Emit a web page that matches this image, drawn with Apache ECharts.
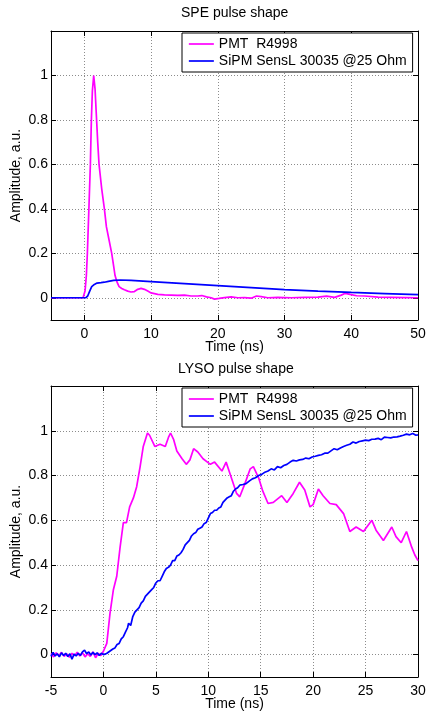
<!DOCTYPE html>
<html>
<head>
<meta charset="utf-8">
<script src="https://cdn.jsdelivr.net/npm/echarts@6/dist/echarts.min.js"></script>
<style>
  html, body { margin: 0; padding: 0; background: #fff; }
  #chart { width: 426px; height: 711px; }
</style>
</head>
<body>
<div id="chart"></div>
<script>
// SPE pulse shape: [time ns, amplitude]
var spePmt = [[-5,0],[-0.2,0],[0.1,0.03],[0.3,0.1],[0.45,0.2],[0.7,0.42],[0.9,0.6],[1.05,0.8],[1.2,0.93],[1.4,1.0],
  [1.6,0.94],[1.8,0.82],[2.0,0.7],[2.2,0.6],[2.6,0.49],[3.0,0.4],[3.3,0.32],[3.7,0.26],[4.1,0.2],[4.4,0.14],[4.6,0.1],
  [4.9,0.07],[5.2,0.05],[5.6,0.042],[6.0,0.036],[6.5,0.03],[7.0,0.026],[7.5,0.028],[8.0,0.038],[8.5,0.042],[9.0,0.038],
  [9.5,0.03],[10,0.022],[11,0.015],[12,0.013],[13,0.012],[14,0.011],[15,0.012],[16,0.008],[17,0.008],[17.6,0.01],
  [18.3,0.004],[19,0.0],[19.5,-0.006],[20.2,-0.003],[21,0.001],[22,0.004],[23,0.0],[24,0.001],[25,-0.002],[25.8,0.008],
  [26.5,0.005],[27.5,0.0],[29,0.002],[31,0.0],[33,0.002],[35,0.003],[36.3,0.007],[37.5,0.002],[38.5,0.012],[39.1,0.02],
  [39.8,0.015],[40.8,0.009],[42,0.008],[44,0.003],[46,0.002],[48,0.001],[50,0.0]];
var speSipm = [[-5,0],[0.2,0],[0.5,0.008],[0.8,0.03],[1.1,0.05],[1.5,0.06],[1.9,0.066],[2.5,0.068],[3.0,0.07],[3.6,0.074],
  [4.4,0.078],[5.4,0.08],[7,0.078],[10,0.073],[15,0.064],[20,0.055],[25,0.046],[30,0.037],[35,0.03],[40,0.024],[45,0.019],[50,0.014]];

// LYSO pulse shape
var lysoPmt = [[-5,0.005],[-4.75,-0.01],[-4.5,0.008],[-4.25,-0.005],[-4,0.01],[-3.75,-0.008],[-3.5,0.004],[-3.25,-0.012],
  [-3,0.006],[-2.75,-0.004],[-2.5,0.01],[-2.25,-0.006],[-2,0.008],[-1.75,-0.01],[-1.5,0.004],[-1.25,-0.008],[-1,0.012],
  [-0.75,-0.014],[-0.5,0.006],[-0.25,-0.004],[0,0.015],[0.32,0.05],[0.63,0.185],[0.95,0.29],[1.27,0.35],[1.59,0.48],
  [1.9,0.59],[2.2,0.59],[2.5,0.66],[2.86,0.7],[3.17,0.75],[3.5,0.84],[3.8,0.93],[4.2,0.99],[4.4,0.98],[4.9,0.93],
  [5.4,0.94],[5.9,0.93],[6.2,0.97],[6.4,0.99],[6.7,0.96],[7.0,0.91],[7.5,0.875],[7.9,0.85],[8.25,0.87],[8.6,0.92],
  [9.0,0.905],[9.5,0.875],[10.2,0.85],[10.6,0.86],[11.3,0.82],[11.7,0.86],[12.2,0.79],[12.7,0.72],[13.0,0.705],
  [13.5,0.765],[14.0,0.83],[14.3,0.84],[14.8,0.79],[15.2,0.73],[15.7,0.675],[16.2,0.68],[17.0,0.71],[17.5,0.68],
  [18.1,0.72],[18.7,0.77],[19.2,0.735],[19.7,0.66],[20.0,0.67],[20.5,0.74],[20.95,0.71],[21.6,0.675],[22.2,0.67],
  [22.9,0.63],[23.5,0.55],[24.1,0.57],[24.8,0.55],[25.6,0.6],[26.0,0.556],[26.7,0.51],[27.5,0.57],[27.9,0.527],
  [28.4,0.5],[28.9,0.55],[29.4,0.48],[29.7,0.445],[30,0.42]];
var lysoSipm = [[-5,-0.008],[-4.8,0.01],[-4.6,-0.006],[-4.4,0.004],[-4.2,-0.01],[-4,0.008],[-3.8,-0.004],[-3.6,0.006],
  [-3.4,-0.008],[-3.2,0.004],[-3.0,-0.02],[-2.8,0.002],[-2.6,-0.006],[-2.4,0.006],[-2.2,-0.004],[-2.0,0.012],[-1.8,0.02],
  [-1.6,0.004],[-1.4,0.012],[-1.2,-0.002],[-1.0,0.01],[-0.8,0.0],[-0.6,0.008],[-0.4,-0.004],[-0.2,0.006],
  [0,0.0],[0.3,0.005],[0.6,0.015],[0.9,0.025],[1.1,0.03],[1.3,0.045],[1.5,0.05],[1.7,0.07],[1.9,0.08],[2.1,0.1],
  [2.3,0.12],[2.4,0.14],[2.6,0.13],[2.8,0.17],[3.0,0.19],[3.2,0.2],[3.4,0.21],[3.6,0.23],[3.8,0.24],[4.0,0.26],
  [4.2,0.27],[4.4,0.28],[4.6,0.29],[4.8,0.3],[5.0,0.32],[5.2,0.33],[5.4,0.33],[5.6,0.35],[5.8,0.37],[6.0,0.385],
  [6.2,0.39],[6.4,0.4],[6.6,0.42],[6.8,0.42],[7.0,0.44],[7.2,0.445],[7.4,0.455],[7.6,0.47],[7.8,0.49],[8.0,0.5],
  [8.2,0.51],[8.4,0.53],[8.6,0.54],[8.8,0.545],[9.0,0.56],[9.2,0.565],[9.4,0.57],[9.6,0.585],[9.8,0.59],[10.0,0.61],
  [10.2,0.63],[10.4,0.635],[10.6,0.645],[10.8,0.645],[11.0,0.655],[11.2,0.66],[11.4,0.68],[11.6,0.69],[11.8,0.7],
  [12.0,0.705],[12.2,0.71],[12.4,0.73],[12.6,0.74],[12.8,0.745],[13.0,0.757],[13.3,0.76],[13.6,0.764],[13.9,0.775],
  [14.2,0.785],[14.5,0.79],[14.8,0.8],[15.1,0.805],[15.4,0.815],[15.7,0.82],[16.0,0.83],[16.3,0.825],[16.6,0.84],
  [16.9,0.835],[17.2,0.845],[17.5,0.85],[17.8,0.86],[18.1,0.868],[18.4,0.865],[18.7,0.87],[19.0,0.872],[19.3,0.878],
  [19.6,0.875],[19.9,0.883],[20.2,0.886],[20.5,0.89],[20.8,0.893],[21.1,0.9],[21.4,0.9],[21.7,0.91],[22.0,0.92],
  [22.3,0.915],[22.6,0.923],[22.9,0.93],[23.2,0.935],[23.5,0.94],[23.8,0.95],[24.1,0.945],[24.4,0.952],[24.7,0.955],
  [25.0,0.958],[25.3,0.956],[25.6,0.962],[25.9,0.963],[26.2,0.966],[26.5,0.96],[26.8,0.972],[27.1,0.97],[27.4,0.968],
  [27.7,0.972],[28.0,0.973],[28.3,0.976],[28.6,0.98],[28.9,0.985],[29.2,0.982],[29.5,0.988],[29.8,0.98],[30,0.982]];

var speXTicks = [0, 10, 20, 30, 40, 50];
var yTicks = [0, 0.2, 0.4, 0.6, 0.8, 1];
var names = ["PMT  R4998", "SiPM SensL 30035 @25 Ohm"];
var colors = ["#ff00ff", "#0000ff"];

var font = "Liberation Sans, Arial, sans-serif";
var gridLine = { show: true, lineStyle: { color: "#8c8c8c", type: [1, 2], width: 1 } };
var axisLine = { show: true, onZero: false, lineStyle: { color: "#000", width: 1 } };
var tick = { show: true, inside: true, length: 5, lineStyle: { color: "#000" } };
var label = { color: "#000", fontSize: 14, fontFamily: font };

function xMain(grid, min, max, extra) {
  return Object.assign({
    type: "value", gridIndex: grid, min: min, max: max, position: "bottom",
    name: "Time (ns)", nameLocation: "middle", nameGap: 20, nameMoveOverlap: false,
    nameTextStyle: { color: "#000", fontSize: 14, fontFamily: font },
    axisLine: axisLine, axisTick: tick, splitLine: gridLine,
    axisLabel: Object.assign({ margin: 7 }, label),
  }, extra);
}
function xTop(grid, min, max, extra) {
  return Object.assign({
    type: "value", gridIndex: grid, min: min, max: max, position: "top",
    axisLine: axisLine, axisTick: tick, splitLine: { show: false }, axisLabel: { show: false },
  }, extra);
}
function yMain(grid) {
  return {
    type: "value", gridIndex: grid, min: -0.1, max: 1.2, position: "left",
    name: "Amplitude, a.u.", nameLocation: "middle", nameGap: 28, nameMoveOverlap: false,
    nameTextStyle: { color: "#000", fontSize: 14, fontFamily: font },
    axisLine: axisLine, axisTick: Object.assign({ customValues: yTicks }, tick),
    splitLine: gridLine,
    axisLabel: Object.assign({ margin: 3, customValues: yTicks }, label),
  };
}
function yRight(grid) {
  return {
    type: "value", gridIndex: grid, min: -0.1, max: 1.2, position: "right",
    axisLine: axisLine, axisTick: Object.assign({ customValues: yTicks }, tick),
    splitLine: { show: false }, axisLabel: { show: false },
  };
}
function line(name, data, idx, color) {
  return {
    name: name, type: "line", data: data, xAxisIndex: idx, yAxisIndex: idx,
    symbol: "none", showSymbol: false, smooth: false, animation: false,
    lineStyle: { color: color, width: 1.7 }, itemStyle: { color: color },
  };
}
function legend(top) {
  return {
    data: names, orient: "vertical", left: 182, top: top,
    itemWidth: 25, itemHeight: 14, itemGap: 3,
    padding: [4, 6, 4, 6], backgroundColor: "#fff",
    borderColor: "#000", borderWidth: 1, borderRadius: 0,
    itemStyle: { opacity: 0 },
    lineStyle: { width: 1.7 },
    textStyle: { color: "#000", fontSize: 14, fontFamily: font },
  };
}

var myChart = echarts.init(document.getElementById("chart"));
myChart.setOption({
  backgroundColor: "#fff",
  animation: false,
  title: [
    { text: "SPE pulse shape", left: 176, top: 1, textStyle: { fontSize: 14, fontWeight: "normal", color: "#000", fontFamily: font } },
    { text: "LYSO pulse shape", left: 173, top: 357, textStyle: { fontSize: 14, fontWeight: "normal", color: "#000", fontFamily: font } },
  ],
  legend: [legend(33), legend(388)],
  grid: [
    { left: 51, top: 31, width: 367, height: 289, outerBoundsMode: "none", containLabel: false },
    { left: 51, top: 386, width: 367, height: 291, outerBoundsMode: "none", containLabel: false },
  ],
  xAxis: [
    xMain(0, -5, 50, {
      axisTick: Object.assign({ customValues: speXTicks }, tick),
      axisLabel: Object.assign({ margin: 7, customValues: speXTicks }, label),
    }),
    xTop(0, -5, 50, { axisTick: Object.assign({ customValues: speXTicks }, tick) }),
    xMain(1, -5, 30, { interval: 5 }),
    xTop(1, -5, 30, { interval: 5 }),
  ],
  yAxis: [yMain(0), yRight(0), yMain(1), yRight(1)],
  series: [
    line(names[0], spePmt, 0, colors[0]),
    line(names[1], speSipm, 0, colors[1]),
    line(names[0], lysoPmt, 2, colors[0]),
    line(names[1], lysoSipm, 2, colors[1]),
  ],
});
</script>
</body>
</html>
